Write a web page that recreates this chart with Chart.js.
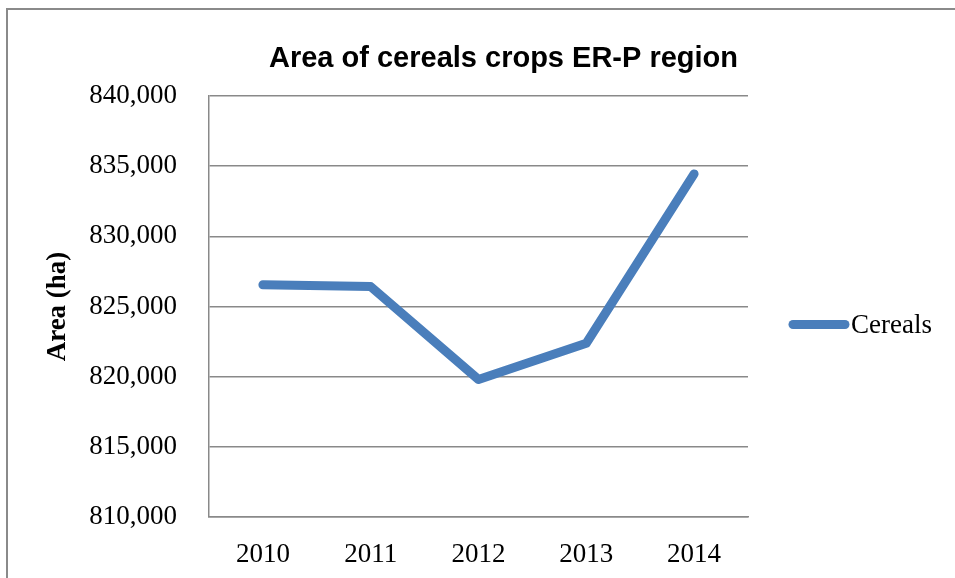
<!DOCTYPE html>
<html>
<head>
<meta charset="utf-8">
<script src="https://cdn.jsdelivr.net/npm/chart.js@4/dist/chart.umd.min.js"></script>
<style>
  html, body { margin: 0; padding: 0; background: #ffffff; }
  #wrap { width: 955px; height: 578px; position: relative; }
</style>
</head>
<body>
<div id="wrap"><canvas id="c"></canvas></div>
<script>
const categories = ['2010', '2011', '2012', '2013', '2014'];
const cerealsValues = [826550, 826420, 819800, 822380, 834450];
const seriesName = 'Cereals';
const chartTitle = 'Area of cereals crops ER-P region';
const yAxisTitle = 'Area (ha)';
const yMin = 810000, yMax = 840000, yStep = 5000;

const lineColor = '#4A7EBB';
const gridColor = '#898989';
const serif = '"Liberation Serif", "Times New Roman", serif';
const sans = '"Liberation Sans", Arial, sans-serif';

const decorPlugin = {
  id: 'decor',
  beforeDraw(chart) {
    const ctx = chart.ctx;
    ctx.save();
    ctx.fillStyle = '#ffffff';
    ctx.fillRect(0, 0, chart.width, chart.height);
    ctx.strokeStyle = '#8a8a8a';
    ctx.lineWidth = 2;
    ctx.beginPath();
    ctx.moveTo(7, chart.height + 5);
    ctx.lineTo(7, 9);
    ctx.lineTo(chart.width + 5, 9);
    ctx.stroke();
    ctx.restore();
  },
  afterDraw(chart) {
    const ctx = chart.ctx;
    const area = chart.chartArea;
    ctx.save();
    // title
    ctx.fillStyle = '#000000';
    ctx.font = 'bold 29px ' + sans;
    ctx.textAlign = 'center';
    ctx.textBaseline = 'alphabetic';
    ctx.fillText(chartTitle, (area.left + area.right) / 2 + 25, 67);
    // legend
    const ly = (area.top + area.bottom) / 2 + 18;
    const lx = area.right + 45;
    ctx.strokeStyle = lineColor;
    ctx.lineWidth = 9;
    ctx.lineCap = 'round';
    ctx.beginPath();
    ctx.moveTo(lx, ly);
    ctx.lineTo(lx + 52, ly);
    ctx.stroke();
    ctx.font = '27px ' + serif;
    ctx.textAlign = 'left';
    ctx.textBaseline = 'middle';
    ctx.fillText(seriesName, lx + 58, ly + 1);
    ctx.restore();
  }
};

new Chart(document.getElementById('c'), {
  type: 'line',
  data: {
    labels: categories,
    datasets: [{
      label: seriesName,
      data: cerealsValues,
      borderColor: lineColor,
      backgroundColor: lineColor,
      borderWidth: 9,
      pointRadius: 0,
      pointHoverRadius: 0,
      borderCapStyle: 'round',
      borderJoinStyle: 'round',
      tension: 0,
      fill: false
    }]
  },
  options: {
    responsive: true,
    maintainAspectRatio: false,
    animation: false,
    events: [],
    layout: { padding: { left: 0, top: 96, right: 207, bottom: 0 } },
    plugins: {
      legend: { display: false },
      title: { display: false },
      tooltip: { enabled: false }
    },
    scales: {
      x: {
        offset: true,
        grid: { display: false, drawTicks: false },
        border: { display: true, color: gridColor, width: 1.5 },
        ticks: {
          color: '#000000',
          font: { family: serif, size: 27 },
          padding: 22,
          maxRotation: 0
        },
        afterFit(scale) { scale.height = 61; }
      },
      y: {
        min: yMin,
        max: yMax,
        grid: { color: gridColor, lineWidth: 1.5, drawTicks: false },
        border: { display: true, color: gridColor, width: 1.5 },
        ticks: {
          stepSize: yStep,
          color: '#000000',
          font: { family: serif, size: 27 },
          padding: 32,
          callback: (v) => Number(v).toLocaleString('en-US')
        },
        title: {
          display: true,
          text: yAxisTitle,
          color: '#000000',
          font: { family: serif, size: 27, weight: 'bold' },
          padding: { top: 42, bottom: 0 }
        },
        afterFit(scale) { scale.width = 209; }
      }
    }
  },
  plugins: [decorPlugin]
});
</script>
</body>
</html>
